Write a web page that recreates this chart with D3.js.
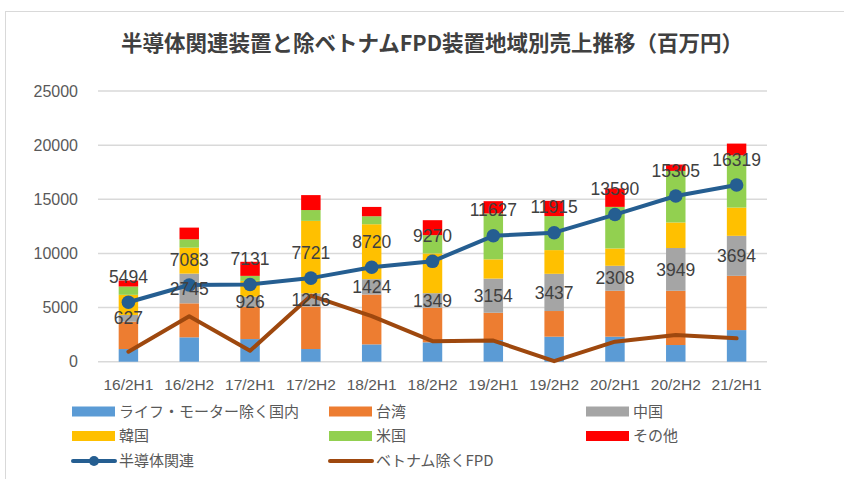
<!DOCTYPE html>
<html><head><meta charset="utf-8">
<script src="https://cdn.jsdelivr.net/npm/d3@7/dist/d3.min.js"></script>
<style>
html,body{margin:0;padding:0;background:#fff;}
svg{display:block;}
</style>
</head><body>
<svg id="chart" width="844" height="479"></svg>
<script>
const categories = ["16/2H1","16/2H2","17/2H1","17/2H2","18/2H1","18/2H2","19/2H1","19/2H2","20/2H1","20/2H2","21/2H1"];
const domestic = [1170, 2250, 2090, 1170, 1600, 1790, 2000, 2310, 2310, 1540, 2920];
const taiwan   = [2520, 3140, 2980, 3920, 4600, 3190, 2520, 2370, 4240, 5010, 5010];
const china    = [627, 2745, 926, 1216, 1424, 1349, 3154, 3437, 2308, 3949, 3694];
const korea    = [1860, 2400, 1470, 6700, 5070, 3670, 1780, 2190, 1600, 2360, 2610];
const usa      = [770, 770, 460, 1000, 740, 1690, 4240, 3140, 3840, 4760, 4830];
const other    = [550, 1080, 1300, 1380, 860, 1380, 1130, 1410, 1700, 590, 1080];
const semi     = [5494, 7083, 7131, 7721, 8720, 9270, 11627, 11915, 13590, 15305, 16319];
const fpd      = [920, 4200, 1010, 6100, 4200, 1900, 1950, 50, 1850, 2460, 2160];
const yTicks   = [0, 5000, 10000, 15000, 20000, 25000];
const seriesNames = ["ライフ・モーター除く国内","台湾","中国","韓国","米国","その他"];
const lineNames = ["半導体関連","ベトナム除くFPD"];
const title = "半導体関連装置と除ベトナムFPD装置地域別売上推移（百万円）";

const colors = ["#5B9BD5","#ED7D31","#A5A5A5","#FFC000","#92D050","#FF0000"];
const semiColor = "#255E91", fpdColor = "#9E480E";
const seriesData = [domestic, taiwan, china, korea, usa, other];

const svg = d3.select("#chart");
const pLeft = 98, pRight = 767, pTop = 91, pBottom = 361.7;

// frame
svg.append("rect").attr("x",5.5).attr("y",11.5).attr("width",850).attr("height",480)
  .attr("fill","none").attr("stroke","#d9d9d9").attr("stroke-width",1);

svg.append("text").attr("x",432).attr("y",51).attr("text-anchor","middle")
  .attr("font-family","'Noto Sans CJK JP'").attr("font-weight","bold")
  .attr("font-size","21.5px").attr("fill","#404040").text(title);

const x = d3.scaleBand().domain(categories).range([pLeft,pRight]).padding(0);
const y = d3.scaleLinear().domain([0,25000]).range([pBottom,pTop]);
const barW = x.bandwidth()*0.32;

// grid
svg.append("g").selectAll("line").data(yTicks).join("line")
  .attr("x1",pLeft).attr("x2",pRight).attr("y1",d=>y(d)).attr("y2",d=>y(d))
  .attr("stroke","#d9d9d9").attr("stroke-width",1.5);

// y axis labels
const yAxis = d3.axisLeft(y).tickValues(yTicks).tickSize(0).tickPadding(20).tickFormat(d3.format("d"));
const ga = svg.append("g").attr("transform",`translate(${pLeft},0)`).call(yAxis);
ga.select(".domain").remove();
ga.selectAll("text").attr("font-family","'Liberation Sans'").attr("font-size","16px").attr("fill","#595959");

// x axis labels
const xAxis = d3.axisBottom(x).tickSize(0).tickPadding(17);
const gx = svg.append("g").attr("transform",`translate(0,${pBottom})`).call(xAxis);
gx.select(".domain").remove();
gx.selectAll("text").attr("font-family","'Liberation Sans'").attr("font-size","15.5px").attr("fill","#595959");

// stacked bars
const table = categories.map((c,i)=>{const o={cat:c}; seriesData.forEach((s,k)=>o["s"+k]=s[i]); return o;});
const stack = d3.stack().keys(seriesData.map((s,k)=>"s"+k))(table);
svg.append("g").selectAll("g").data(stack).join("g").attr("fill",(d,k)=>colors[k])
  .selectAll("rect").data(d=>d).join("rect")
  .attr("x",d=>x(d.data.cat)+x.bandwidth()/2-barW/2)
  .attr("width",barW)
  .attr("y",d=>y(d[1]))
  .attr("height",d=>y(d[0])-y(d[1]));

const cx = c=>x(c)+x.bandwidth()/2;
// lines
const line = d3.line().x((d,i)=>cx(categories[i])).y(d=>y(d));
svg.append("path").datum(fpd).attr("d",line).attr("fill","none").attr("stroke",fpdColor)
  .attr("stroke-width",4).attr("stroke-linejoin","round").attr("stroke-linecap","round");
svg.append("path").datum(semi).attr("d",line).attr("fill","none").attr("stroke",semiColor)
  .attr("stroke-width",4).attr("stroke-linejoin","round");
svg.append("g").selectAll("circle").data(semi).join("circle")
  .attr("cx",(d,i)=>cx(categories[i])).attr("cy",d=>y(d)).attr("r",6.8).attr("fill",semiColor);

// data labels
const lblFont = "'Liberation Sans'";
svg.append("g").selectAll("text").data(semi).join("text")
  .attr("x",(d,i)=>cx(categories[i])).attr("y",d=>y(d)-25.5).attr("dy","0.35em")
  .attr("text-anchor","middle").attr("font-family",lblFont).attr("font-size","17.5px").attr("fill","#404040")
  .text(d=>d);
const chinaStack = stack[2];
svg.append("g").selectAll("text").data(chinaStack).join("text")
  .attr("x",d=>cx(d.data.cat)).attr("y",d=>(y(d[0])+y(d[1]))/2).attr("dy","0.35em")
  .attr("text-anchor","middle").attr("font-family",lblFont).attr("font-size","17.5px").attr("fill","#404040")
  .text((d,i)=>china[i]);

// legend
const colX = [72, 329, 586];
const rowY = [411.5, 436, 461];
const lg = svg.append("g").attr("font-family","'Noto Sans CJK JP'").attr("font-size","15px").attr("fill","#595959");
seriesNames.forEach((n,k)=>{
  const lx = colX[k%3], ly = rowY[Math.floor(k/3)];
  lg.append("rect").attr("x",lx).attr("y",ly-5).attr("width",43).attr("height",10).attr("fill",colors[k]);
  lg.append("text").attr("x",lx+47).attr("y",ly).attr("dy","0.35em").text(n);
});
lineNames.forEach((n,k)=>{
  const lx = colX[k], ly = rowY[2];
  const col = k===0?semiColor:fpdColor;
  lg.append("line").attr("x1",lx+1).attr("x2",lx+43).attr("y1",ly).attr("y2",ly)
    .attr("stroke",col).attr("stroke-width",4).attr("stroke-linecap","round");
  if(k===0) lg.append("circle").attr("cx",lx+22).attr("cy",ly).attr("r",5).attr("fill",col);
  lg.append("text").attr("x",lx+47).attr("y",ly).attr("dy","0.35em").text(n);
});
</script>
</body></html>
